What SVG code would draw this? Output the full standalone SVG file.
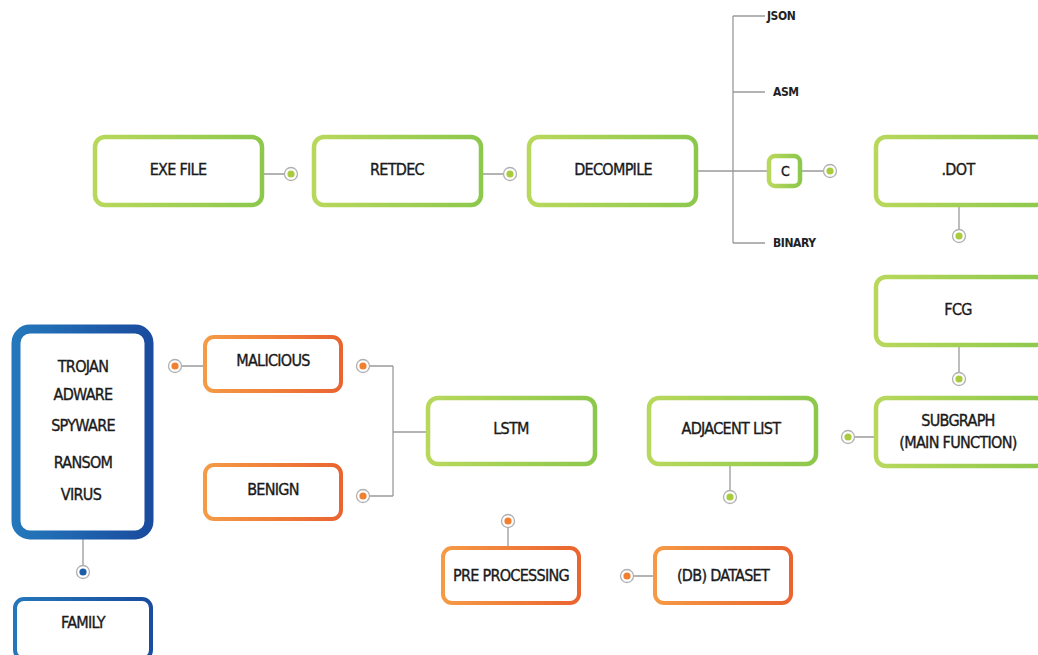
<svg xmlns="http://www.w3.org/2000/svg" width="1038" height="655" viewBox="0 0 1038 655">
<defs>
<linearGradient id="gG" x1="0" y1="0" x2="1" y2="0"><stop offset="0" stop-color="#b8d85c"/><stop offset="1" stop-color="#8cc84c"/></linearGradient>
<linearGradient id="gO" x1="0" y1="0" x2="1" y2="0"><stop offset="0" stop-color="#f59a45"/><stop offset="1" stop-color="#ea6430"/></linearGradient>
<linearGradient id="gB" x1="0" y1="0" x2="1" y2="0"><stop offset="0" stop-color="#2477bb"/><stop offset="1" stop-color="#1a4c9f"/></linearGradient>
<style>
.g{fill:#fff;stroke:url(#gG);stroke-width:4.5}
.o{fill:#fff;stroke:url(#gO);stroke-width:4}
.b{fill:#fff;stroke:url(#gB);stroke-width:4}
.bb{fill:#fff;stroke:url(#gB);stroke-width:9}
.t{font-family:"DejaVu Sans Condensed","Liberation Sans",sans-serif;font-size:16px;fill:#1a1a1a;stroke:#1a1a1a;stroke-width:0.35;text-anchor:middle;letter-spacing:-0.7px}
.s{font-family:"DejaVu Sans Condensed","Liberation Sans",sans-serif;font-size:12px;font-weight:bold;fill:#222;letter-spacing:-0.4px}
.ln{stroke:#9a9a9a;stroke-width:1.3;fill:none}
.ring{fill:#fff;stroke:#b0b0b0;stroke-width:1.3}
.dg{fill:#a9cc3f}.do{fill:#f07f30}.db{fill:#1c5ca8}
</style>
</defs>
<rect width="1038" height="655" fill="#fff"/>
<g id="connectors">
<path class="ln" d="M263 174H285M482 174H504M697 171H768M800 171H824M733 16V243M733 16H765M733 92H765M733 243H765"/>
<path class="ln" d="M959 206V229M959 346V372M875 437H855M730 465V490M654 576H634M508 547V528M427 432H393M393 366V496M369 366H393M369 496H393M204 366H182M83 539V565"/>
<circle class="ring" cx="291" cy="174" r="6.5"/><circle class="dg" cx="291" cy="174" r="3.6"/>
<circle class="ring" cx="510" cy="174" r="6.5"/><circle class="dg" cx="510" cy="174" r="3.6"/>
<circle class="ring" cx="830" cy="171" r="6.5"/><circle class="dg" cx="830" cy="171" r="3.6"/>
<circle class="ring" cx="959" cy="236" r="6.5"/><circle class="dg" cx="959" cy="236" r="3.6"/>
<circle class="ring" cx="959" cy="379" r="6.5"/><circle class="dg" cx="959" cy="379" r="3.6"/>
<circle class="ring" cx="848" cy="437" r="6.5"/><circle class="dg" cx="848" cy="437" r="3.6"/>
<circle class="ring" cx="730" cy="497" r="6.5"/><circle class="dg" cx="730" cy="497" r="3.6"/>
<circle class="ring" cx="627" cy="576" r="6.5"/><circle class="do" cx="627" cy="576" r="3.6"/>
<circle class="ring" cx="508" cy="521" r="6.5"/><circle class="do" cx="508" cy="521" r="3.6"/>
<circle class="ring" cx="363" cy="366" r="6.5"/><circle class="do" cx="363" cy="366" r="3.6"/>
<circle class="ring" cx="363" cy="496" r="6.5"/><circle class="do" cx="363" cy="496" r="3.6"/>
<circle class="ring" cx="175" cy="366" r="6.5"/><circle class="do" cx="175" cy="366" r="3.6"/>
<circle class="ring" cx="83" cy="572" r="6.5"/><circle class="db" cx="83" cy="572" r="3.6"/>
<text class="s" x="767" y="20">JSON</text>
<text class="s" x="773" y="96">ASM</text>
<text class="s" x="773" y="247">BINARY</text>
</g>
<g id="exe"><rect class="g" x="95" y="137" width="167" height="68" rx="10"/><text class="t" x="178" y="175">EXE FILE</text></g>
<g id="retdec"><rect class="g" x="314" y="137" width="167" height="68" rx="10"/><text class="t" x="397" y="175">RETDEC</text></g>
<g id="decompile"><rect class="g" x="529" y="137" width="167" height="68" rx="10"/><text class="t" x="613" y="175">DECOMPILE</text></g>
<g id="c"><rect class="g" x="769" y="156" width="31" height="30" rx="6"/><text class="t" x="785" y="176" style="font-size:14px">C</text></g>
<g id="dot"><rect class="g" x="876" y="137" width="170" height="68" rx="10"/><text class="t" x="958" y="175">.DOT</text></g>
<g id="fcg"><rect class="g" x="876" y="277" width="170" height="68" rx="10"/><text class="t" x="958" y="315">FCG</text></g>
<g id="subgraph"><rect class="g" x="876" y="398" width="170" height="68" rx="10"/><text class="t" x="958" y="426">SUBGRAPH</text><text class="t" x="958" y="448">(MAIN FUNCTION)</text></g>
<g id="adjacent"><rect class="g" x="649" y="398" width="167" height="66" rx="10"/><text class="t" x="731" y="434">ADJACENT LIST</text></g>
<g id="lstm"><rect class="g" x="428" y="398" width="167" height="66" rx="10"/><text class="t" x="511" y="434">LSTM</text></g>
<g id="dataset"><rect class="o" x="655" y="548" width="136" height="55" rx="9"/><text class="t" x="723" y="581">(DB) DATASET</text></g>
<g id="preprocessing"><rect class="o" x="443" y="548" width="136" height="55" rx="9"/><text class="t" x="511" y="581">PRE PROCESSING</text></g>
<g id="malicious"><rect class="o" x="205" y="337" width="136" height="54" rx="9"/><text class="t" x="273" y="366">MALICIOUS</text></g>
<g id="benign"><rect class="o" x="205" y="465" width="136" height="54" rx="9"/><text class="t" x="273" y="495">BENIGN</text></g>
<g id="types"><rect class="bb" x="16" y="329" width="133" height="206" rx="14"/>
<text class="t" x="83" y="372">TROJAN</text><text class="t" x="83" y="400">ADWARE</text><text class="t" x="83" y="431">SPYWARE</text><text class="t" x="83" y="468">RANSOM</text><text class="t" x="81" y="500">VIRUS</text></g>
<g id="family"><rect class="b" x="15" y="599" width="136" height="60" rx="9"/><text class="t" x="83" y="628">FAMILY</text></g>
</svg>
